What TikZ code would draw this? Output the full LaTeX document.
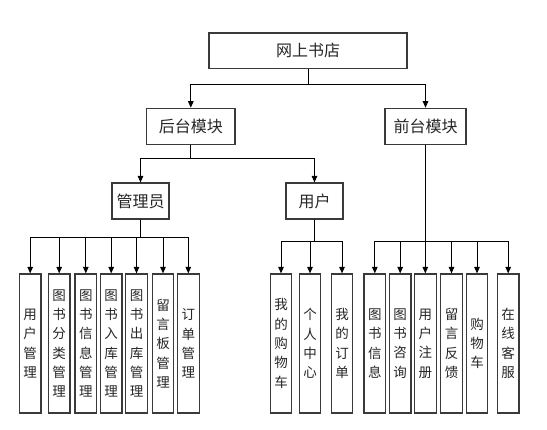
\documentclass[tikz,border=0pt]{standalone}
\usepackage{fontspec}
\setmainfont{Noto Sans CJK SC}
\usetikzlibrary{arrows.meta}
\definecolor{boxgray}{HTML}{3A3A3A}
\begin{document}
\begin{tikzpicture}[x=1pt,y=-1pt,
  box/.style={draw=boxgray, line width=1.2pt, inner sep=0pt, text=black!85, font=\fontsize{16}{18}\selectfont},
  leaf/.style={draw=boxgray, line width=1.2pt, inner sep=0pt, minimum width=21.7pt, minimum height=139pt, align=center, text=black!85, font=\fontsize{13.5}{19.3}\selectfont},
  conn/.style={line width=1pt, black},
  arr/.style={conn, -{Triangle[length=6.5pt,width=5.5pt]}}]
\useasboundingbox (0,0) rectangle (547,430);
\fill[white] (0,0) rectangle (547,430);

\node[box, minimum width=198pt, minimum height=35.5pt] (root) at (308,50.8) {网上书店};
\node[box, minimum width=88.5pt, minimum height=36pt] (back) at (190.8,126.3) {后台模块};
\node[box, minimum width=81pt, minimum height=36pt] (front) at (425.5,126.3) {前台模块};
\node[box, minimum width=57pt, minimum height=36pt] (admin) at (140.5,201) {管理员};
\node[box, minimum width=57pt, minimum height=36pt] (user) at (314.5,201) {用户};

% admin leaves
\node[leaf] (a1) at (30.2,343.5) {用\\户\\管\\理};
\node[leaf] (a2) at (59.2,343.5) {图\\书\\分\\类\\管\\理};
\node[leaf] (a3) at (85.8,343.5) {图\\书\\信\\息\\管\\理};
\node[leaf] (a4) at (111.2,343.5) {图\\书\\入\\库\\管\\理};
\node[leaf] (a5) at (136.5,343.5) {图\\书\\出\\库\\管\\理};
\node[leaf] (a6) at (163,343.5) {留\\言\\板\\管\\理};
\node[leaf] (a7) at (188.3,343.5) {订\\单\\管\\理};
% user leaves
\node[leaf] (u1) at (281,343.5) {我\\的\\购\\物\\车};
\node[leaf] (u2) at (310,343.5) {个\\人\\中\\心};
\node[leaf] (u3) at (342,343.5) {我\\的\\订\\单};
% front leaves
\node[leaf] (f1) at (374.8,343.5) {图\\书\\信\\息};
\node[leaf] (f2) at (400.2,343.5) {图\\书\\咨\\询};
\node[leaf] (f3) at (425.3,343.5) {用\\户\\注\\册};
\node[leaf] (f4) at (451.5,343.5) {留\\言\\反\\馈};
\node[leaf] (f5) at (477,343.5) {购\\物\\车};
\node[leaf] (f6) at (508.2,343.5) {在\\线\\客\\服};

% connectors
\foreach \c in {back,front}
  \draw[arr] (root.south) -- ++(0,15.8) -| (\c.north);
\foreach \c in {admin,user}
  \draw[arr] (back.south) -- ++(0,13.7) -| (\c.north);
\foreach \c in {a1,a2,a3,a4,a5,a6,a7}
  \draw[arr] (admin.south) -- ++(0,18) -| (\c.north);
\foreach \c in {u1,u2,u3}
  \draw[arr] (user.south) -- ++(0,22) -| (\c.north);
\foreach \c in {f1,f2,f3,f4,f5,f6}
  \draw[arr] (front.south) -- ++(0,96.7) -| (\c.north);
\end{tikzpicture}
\end{document}
